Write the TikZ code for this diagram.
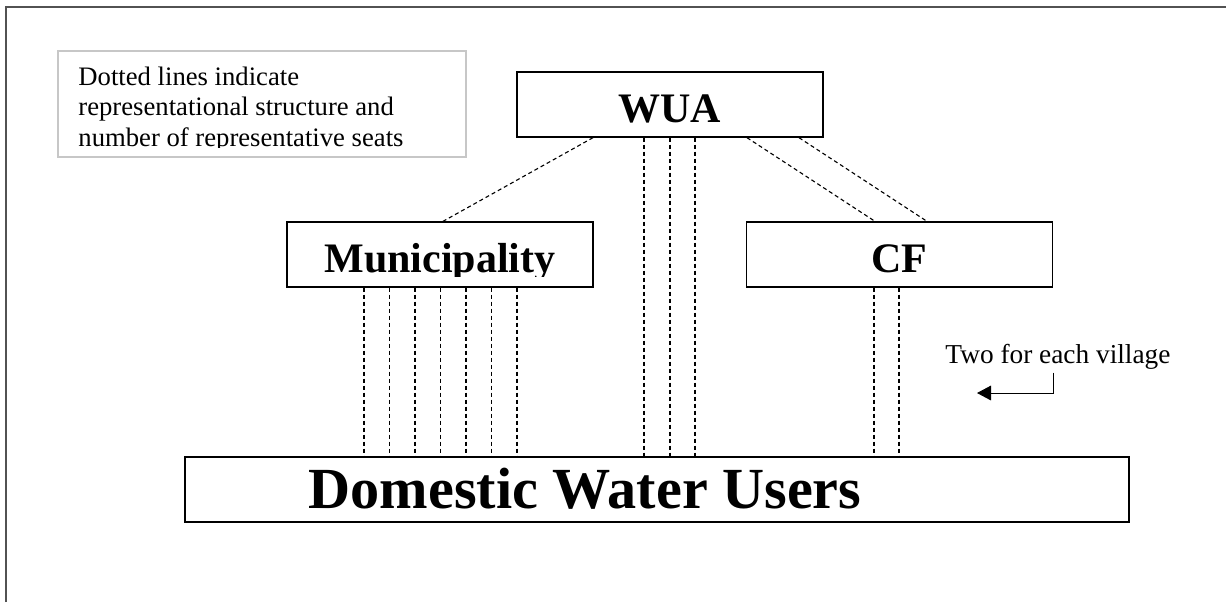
\documentclass[tikz,border=0pt]{standalone}
\usepackage{fontspec}
\setmainfont{Liberation Serif}
\usetikzlibrary{arrows.meta}

\begin{document}
\begin{tikzpicture}[x=0.45pt, y=-0.45pt,
	frame/.style={draw=black!68, line width=0.9pt},
	notebox/.style={draw=black!22, line width=0.7pt, minimum width=183.6pt, minimum height=47.7pt, inner sep=0pt},
	notetext/.style={anchor=base west, inner sep=0pt, align=left, font=\fontsize{12}{13.7}\selectfont},
	box/.style={draw, line width=0.6pt, minimum width=137.7pt, minimum height=29.25pt, inner sep=0pt},
	boxlabel/.style={anchor=base, inner sep=0pt, font=\fontsize{18.9}{22}\selectfont\bfseries},
	seat/.style={line width=0.5pt, dash pattern=on 1.8pt off 1.35pt},
	]
	\useasboundingbox (0,0) rectangle (1226,602);
	\draw [frame] (6,602) -- (6,7) -- (1226,7);

	% legend
	\node[notebox] at (262,104) (note) {};
	\begin{scope}
		\clip (note.north west) rectangle (note.east |- 0,147);
		\node[notetext] at (78,146) (notetxt) {Dotted lines indicate\\representational structure and\\number of representative seats};
	\end{scope}

	\node[box] at (670,104.5) (wua) {};
	\node[box] at (440,254.5) (muni) {};
	\node[box] at (899.5,254.5) (cf) {};
	\node[box, minimum width=424.8pt] at (657,489.5) (dwu) {};

	\node[boxlabel] at (wua.center |- 0,122) (wualbl) {WUA};
	\begin{scope}
		\clip (muni.north west) rectangle (muni.east |- 0,276);
		\node[boxlabel] at (muni.center |- 0,272) (munilbl) {Municipality};
	\end{scope}
	\node[boxlabel] at (cf.center |- 0,272) (cflbl) {CF};
	\node[boxlabel, font=\fontsize{26.2}{30}\selectfont\bfseries] at (585,508) (dwulbl) {Domestic Water Users};

	\node[anchor=base west, inner sep=1.5pt, font=\fontsize{12.3}{14}\selectfont] at (941.7,363) (twoeach) {Two for each village};
	\coordinate (seatend) at (977,393);

	% seats
	\draw [seat] (wua.south -| 593,0) -- (muni.north -| 443,0);
	\draw [seat] (wua.south -| 747,0) -- (cf.north -| 875,0);
	\draw [seat] (wua.south -| 799,0) -- (cf.north -| 927,0);
	\foreach \x in {644,670,695}
		\draw [seat] (wua.south -| \x,0) -- (dwu.north -| \x,0);
	\foreach \x in {364,389.5,415,440.5,466,491.5,517}
		\draw [seat] (muni.south -| \x,0) -- (dwu.north -| \x,0);
	\foreach \x in {874,899}
		\draw [seat] (cf.south -| \x,0) -- (dwu.north -| \x,0);

	\draw [-{Triangle[length=6.3pt,width=6.6pt]}, line width=0.45pt] (twoeach.south -| cf.east) |- (seatend);
\end{tikzpicture}
\end{document}
